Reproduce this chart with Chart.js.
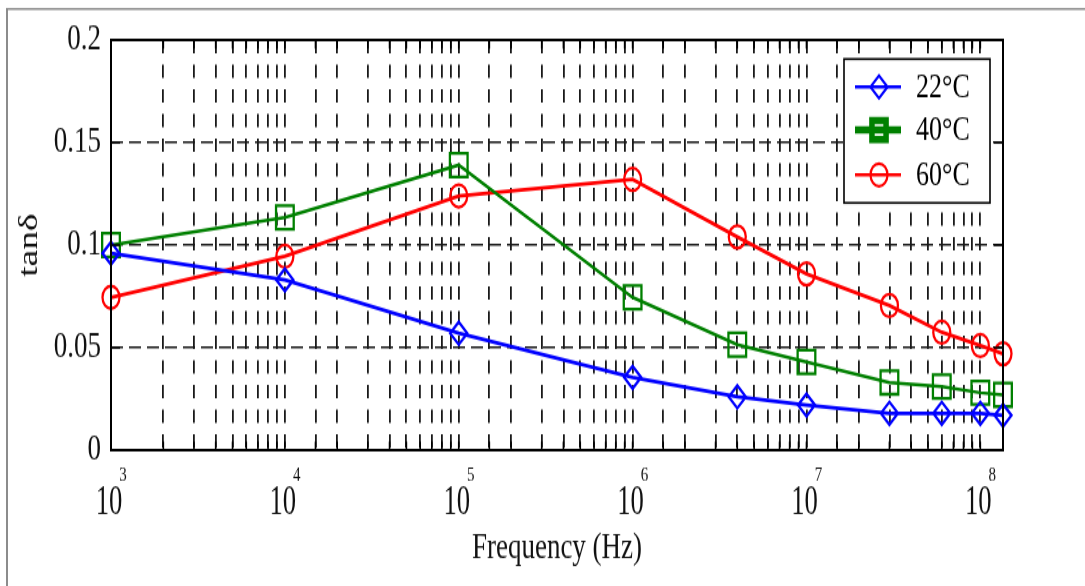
<!DOCTYPE html>
<html><head><meta charset="utf-8">
<style>
html,body{margin:0;padding:0;background:#fff;overflow:hidden;}
</style>
<script src="https://cdn.jsdelivr.net/npm/chart.js@4/dist/chart.umd.min.js"></script>
</head><body>
<canvas id="c" width="1085" height="440" style="width:1085px;height:586px;display:block"></canvas>
<script>
// ---- data ----
const frequencies = [1e3, 1e4, 1e5, 1e6, 4e6, 1e7, 3e7, 6e7, 1e8, 1.35e8];
const tan22 = [0.096, 0.083, 0.057, 0.0355, 0.026, 0.022, 0.018, 0.018, 0.018, 0.017];
const tan40 = [0.100, 0.1135, 0.139, 0.0745, 0.0515, 0.043, 0.033, 0.031, 0.028, 0.027];
const tan60 = [0.0745, 0.0945, 0.124, 0.132, 0.104, 0.086, 0.0705, 0.0575, 0.051, 0.047];
const seriesLabels = ['22°C', '40°C', '60°C'];
const xTickBase = '10';
const xTickExponents = ['3', '4', '5', '6', '7', '8'];
const yTickStep = 0.05;
const xTitle = 'Frequency (Hz)';
const yTitle = 'tanδ';

const SERIF = '"Liberation Serif", "Times New Roman", serif';

function mk(label, vals, color, style, radius, width) {
  return {
    label,
    data: frequencies.map((f, i) => ({x: f, y: vals[i]})),
    borderColor: color,
    backgroundColor: color,
    borderWidth: width,
    pointStyle: style,
    pointRadius: radius,
    pointBorderColor: color,
    pointBackgroundColor: 'rgba(0,0,0,0)',
    pointBorderWidth: 2.3,
    tension: 0,
    clip: 30
  };
}

function drawMarker(ctx, style, r, x, y) {
  ctx.beginPath();
  if (style === 'circle') {
    ctx.arc(x, y, r, 0, Math.PI * 2);
  } else if (style === 'rect') {
    const s = Math.SQRT1_2 * r;
    ctx.rect(x - s, y - s, 2 * s, 2 * s);
  } else {
    ctx.moveTo(x - r, y); ctx.lineTo(x, y - r); ctx.lineTo(x + r, y); ctx.lineTo(x, y + r); ctx.closePath();
  }
  ctx.stroke();
}

const decorPlugin = {
  id: 'decor',
  beforeDraw(chart) {
    const ctx = chart.ctx;
    ctx.save();
    ctx.fillStyle = '#fff';
    ctx.fillRect(0, 0, chart.width, chart.height);
    ctx.strokeStyle = '#8c8c8c';
    ctx.lineWidth = 2;
    ctx.beginPath(); ctx.moveTo(7, chart.height); ctx.lineTo(7, 6.2); ctx.stroke();
    ctx.lineWidth = 1.5;
    ctx.beginPath(); ctx.moveTo(6, 6.8); ctx.lineTo(chart.width, 6.8); ctx.stroke();
    ctx.restore();
  },
  afterDraw(chart) {
    const ctx = chart.ctx;
    const a = chart.chartArea;
    const xs = chart.scales.x, ys = chart.scales.y;
    ctx.save();
    // inward ticks
    ctx.strokeStyle = '#000';
    ctx.lineWidth = 1.6;
    xs.ticks.forEach(t => {
      const px = xs.getPixelForValue(t.value);
      ctx.beginPath();
      ctx.moveTo(px, a.bottom); ctx.lineTo(px, a.bottom - 6.5);
      ctx.moveTo(px, a.top); ctx.lineTo(px, a.top + 6.5);
      ctx.stroke();
    });
    ys.ticks.forEach(t => {
      const py = ys.getPixelForValue(t.value);
      ctx.beginPath();
      ctx.moveTo(a.left, py); ctx.lineTo(a.left + 9, py);
      ctx.moveTo(a.right, py); ctx.lineTo(a.right - 9, py);
      ctx.stroke();
    });
    // box
    ctx.lineWidth = 2;
    ctx.strokeRect(a.left, a.top, a.right - a.left, a.bottom - a.top);

    // x tick labels 10^n
    ctx.fillStyle = '#111';
    ctx.textAlign = 'center';
    ctx.textBaseline = 'alphabetic';
    xTickExponents.forEach(e => {
      const px = xs.getPixelForValue(Math.pow(10, Number(e)));
      ctx.save();
      ctx.translate(px - 2, a.bottom + 48);
      ctx.scale(0.86, 1);
      ctx.font = '31px ' + SERIF;
      ctx.fillText(xTickBase, 0, 0);
      ctx.restore();
      ctx.font = '15px ' + SERIF;
      ctx.fillText(e, px + 12, a.bottom + 22.5);
    });

    // legend
    const bx2 = a.right - 13, bx1 = bx2 - 146;
    const by1 = a.top + 14.3, by2 = by1 + 108;
    ctx.fillStyle = '#fff';
    ctx.fillRect(bx1, by1, bx2 - bx1, by2 - by1);
    ctx.strokeStyle = '#000';
    ctx.lineWidth = 1.6;
    ctx.strokeRect(bx1, by1, bx2 - bx1, by2 - by1);
    const rows = [21, 53.3, 87];
    chart.data.datasets.forEach((ds, i) => {
      const y = by1 + rows[i];
      const thick = i === 1;
      ctx.strokeStyle = ds.borderColor;
      ctx.lineWidth = thick ? 5.5 : 2.5;
      ctx.beginPath(); ctx.moveTo(bx1 + 11, y); ctx.lineTo(bx1 + 57, y); ctx.stroke();
      ctx.lineWidth = thick ? 5.5 : 2.2;
      drawMarker(ctx, ds.pointStyle, thick ? 10 : ds.pointRadius, bx1 + 35, y);
      ctx.fillStyle = '#000';
      ctx.textAlign = 'left';
      ctx.textBaseline = 'middle';
      ctx.font = '26px ' + SERIF;
      ctx.fillText(ds.label, bx1 + 72, y + 1);
    });
    ctx.restore();
  }
};

new Chart(document.getElementById('c'), {
  type: 'line',
  data: {
    datasets: [
      mk(seriesLabels[0], tan22, '#0000ff', 'rectRot', 8.5, 2.8),
      mk(seriesLabels[1], tan40, '#008000', 'rect', 12.5, 2.5),
      mk(seriesLabels[2], tan60, '#ff0000', 'circle', 8.5, 2.8)
    ]
  },
  options: {
    responsive: false,
    animation: false,
    devicePixelRatio: 1,
    layout: {padding: {top: 30, right: 82, bottom: 0, left: 0}},
    plugins: {legend: {display: false}, tooltip: {enabled: false}},
    scales: {
      x: {
        type: 'logarithmic', position: 'bottom', min: 1e3, max: 1.35e8,
        ticks: {display: false, autoSkip: false},
        grid: {color: '#1a1a1a', lineWidth: 1.8, drawTicks: false},
        border: {display: false, dash: [10, 8.5]},
        title: {display: true, text: xTitle, color: '#111', font: {family: SERIF, size: 27, weight: 'normal'}, padding: {top: 0, bottom: 12}},
        afterFit(s) { s.height = 102; }
      },
      y: {
        type: 'linear', position: 'left', min: 0, max: 0.2,
        ticks: {
          stepSize: yTickStep, color: '#111', font: {family: SERIF, size: 27, weight: 'normal'}, padding: 10,
          callback: v => String(Number(v.toFixed(2)))
        },
        grid: {color: '#1a1a1a', lineWidth: 1.5, drawTicks: false},
        border: {display: false, dash: [12, 6]},
        title: {display: true, text: yTitle, color: '#111', font: {family: SERIF, size: 28, weight: 'normal'}, padding: {top: 13, bottom: 0}},
        afterFit(s) { s.width = 111; }
      }
    }
  },
  plugins: [decorPlugin]
});
</script>
</body></html>
